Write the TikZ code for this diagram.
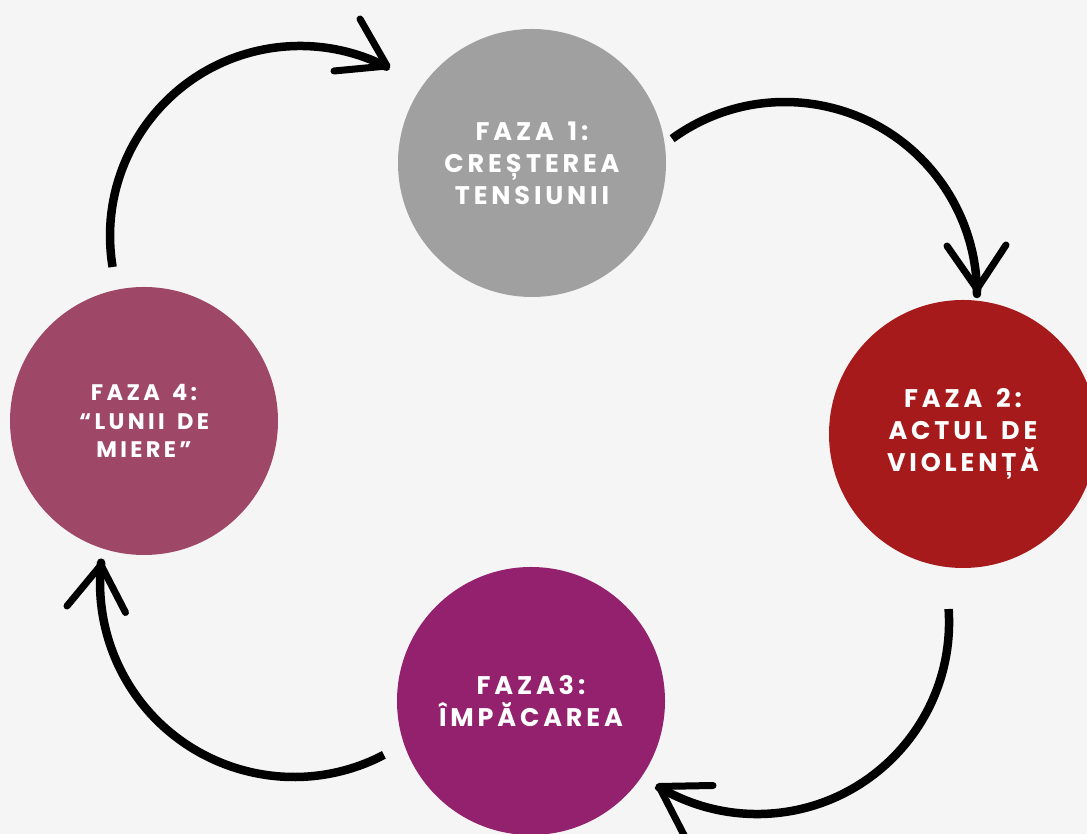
\documentclass[tikz,border=0pt]{standalone}
\usepackage{fontspec}
\setmainfont{Poppins}
\newfontfamily\phasefont{Poppins}[LetterSpace=15, WordSpace=1.5]
\definecolor{bgc}{HTML}{F5F5F5}
\definecolor{cone}{HTML}{A0A0A0}
\definecolor{ctwo}{HTML}{A71A1B}
\definecolor{cthree}{HTML}{93216D}
\definecolor{cfour}{HTML}{9E4767}
\tikzset{
  phase/.style={circle, minimum size=268pt, inner sep=0pt, align=center, text=white,
    font=\phasefont\bfseries\fontsize{25.5}{32}\selectfont},
  phasesmall/.style={phase, font=\phasefont\bfseries\fontsize{22.5}{28.5}\selectfont},
  cyclearc/.style={line width=8.5pt, black, line cap=butt, line join=round},
  barb/.style={line width=7pt, black, line cap=round, line join=round},
}
\begin{document}
\begin{tikzpicture}[x=1pt,y=1pt]
\fill[bgc] (0,0) rectangle (1087,834);
\useasboundingbox (0,0) rectangle (1087,834);

\node[phase, fill=cone] (f1) at (532,671) {FAZA 1:\\CREȘTEREA\\TENSIUNII};
\node[phase, fill=ctwo] (f2) at (963,400) {FAZA 2:\\ACTUL DE\\VIOLENȚĂ};
\node[phase, fill=cthree] (f3) at (531,133) {FAZA3:\\ÎMPĂCAREA};
\node[phasesmall, fill=cfour] (f4) at (144,413) {FAZA 4:\\“LUNII DE\\MIERE”};

% arrow 1: from phase 4 to phase 1
\coordinate (s1) at (112.6,567);
\coordinate (t1) at (387,768);
\coordinate (w1a) at (360,815);
\coordinate (w1b) at (334,763);
\draw[cyclearc] (s1) arc[start angle=189.4, end angle=63, radius=190] -- (t1);
\draw[barb] (w1a) -- (t1) -- (w1b);

% arrow 2: from phase 1 to phase 2
\coordinate (s2) at (672.1,695.3);
\coordinate (t2) at (977,545);
\coordinate (w2a) at (947,588);
\coordinate (w2b) at (1006,589);
\draw[cyclearc] (s2) arc[start angle=126, end angle=0, radius=192] -- (t2);
\draw[barb] (w2a) -- (t2) -- (w2b);

% arrow 3: from phase 2 to phase 3
\coordinate (s3) at (948.6,225);
\coordinate (t3) at (659,47.5);
\coordinate (w3a) at (713,48.5);
\coordinate (w3b) at (685,-3);
\draw[cyclearc] (s3) arc[start angle=3.9, end angle=-120.7, radius=192] -- (t3);
\draw[barb] (w3a) -- (t3) -- (w3b);

% arrow 4: from phase 3 to phase 4
\coordinate (s4) at (383.9,79.1);
\coordinate (t4) at (101,269);
\coordinate (w4a) at (67,228);
\coordinate (w4b) at (125.5,221.5);
\draw[cyclearc] (s4) arc[start angle=-62.4, end angle=-186, radius=194] -- (t4);
\draw[barb] (w4a) -- (t4) -- (w4b);
\end{tikzpicture}
\end{document}
